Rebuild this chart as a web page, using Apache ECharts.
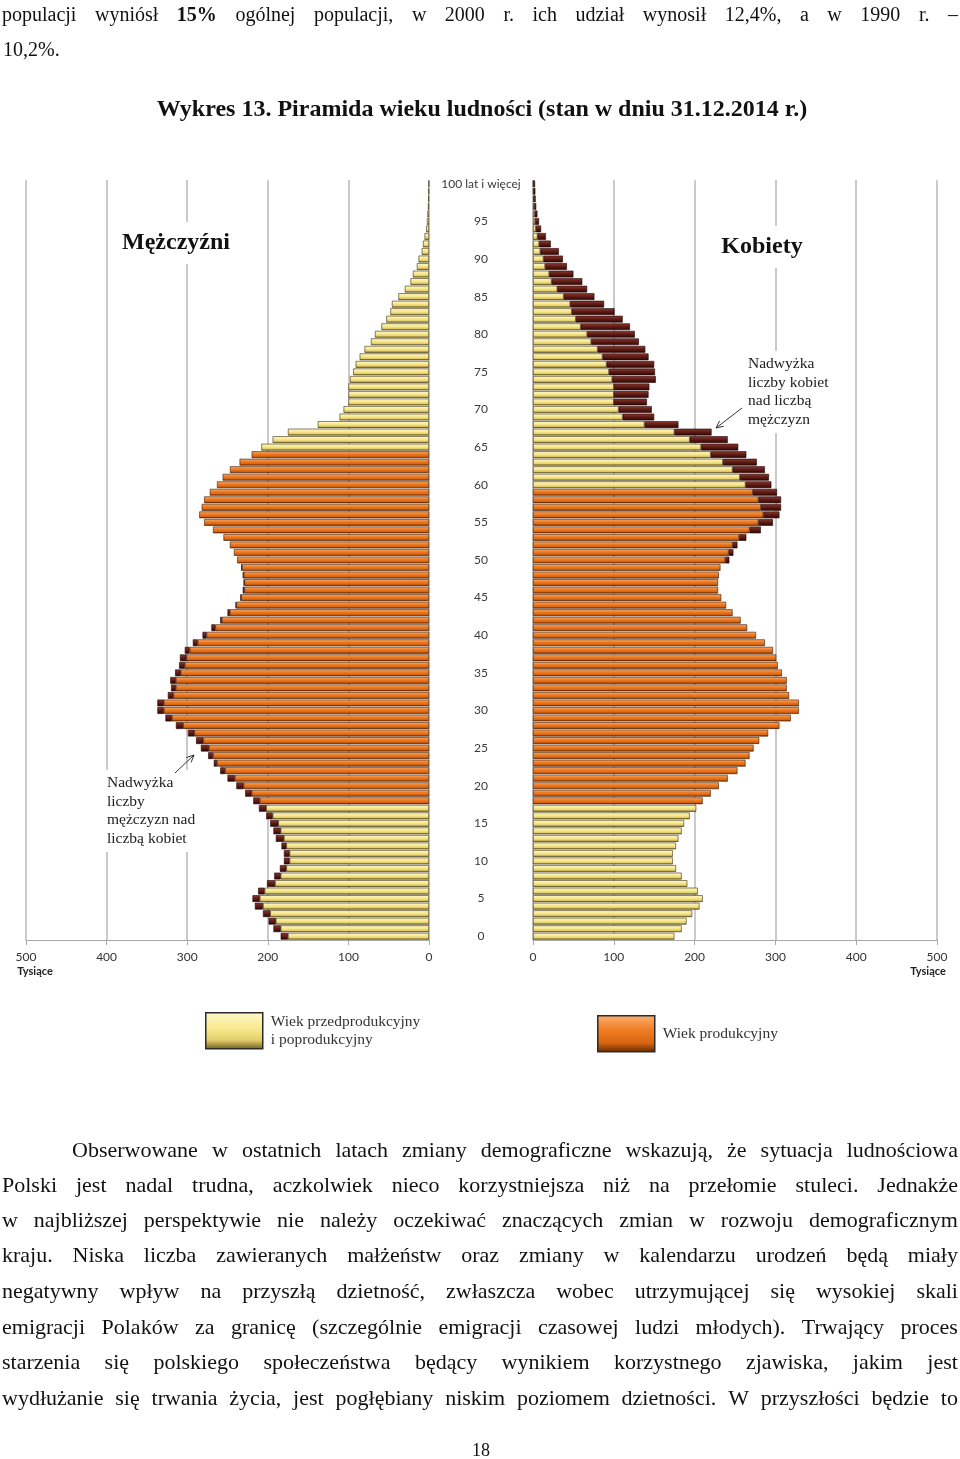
<!DOCTYPE html>
<html>
<head>
<meta charset="utf-8">
<script src="https://cdn.jsdelivr.net/npm/echarts@6/dist/echarts.min.js"></script>
<style>
html,body{margin:0;padding:0;background:#fff;}
#page{position:relative;width:960px;height:1459px;overflow:hidden;background:#fff;}
#chart{position:absolute;left:0;top:0;width:960px;height:1459px;}
.ln{position:absolute;height:26px;line-height:26px;font-family:'Liberation Serif','Times New Roman',serif;font-size:20px;color:#111;white-space:nowrap;z-index:5;}
.jl{display:flex;justify-content:space-between;}
.big{font-size:22px;}
</style>
</head>
<body>
<div id="page">
  <div id="chart"></div>
</div>
<script>
// ---- data (thousands) ----
const ageLabels = Array.from({length: 101}, (_, i) => i === 100 ? '100 lat i więcej' : String(i));

const men = [
  184, 193, 199, 206, 216, 219, 212, 201, 192, 185,
  180, 180, 183, 190, 193, 197, 202, 211, 218, 228,
  239, 250, 259, 267, 274, 283, 289, 299, 314, 327,
  337, 337, 324, 320, 321, 315, 310, 309, 303, 293,
  281, 270, 259, 250, 240, 234, 231, 230, 231, 233,
  238, 242, 247, 255, 268, 279, 285, 282, 279, 272,
  263, 256, 247, 235, 220, 208, 194, 175, 138, 111,
  106, 100, 100, 100, 98, 94, 91, 86, 80, 72,
  67, 59, 53, 48, 46, 38, 30, 23, 20, 15,
  13, 9, 7.5, 5.5, 3.5, 2.5, 2, 1.3, 1, 0.7,
  0.5
];

const women = [
  175, 184, 190, 197, 206, 210, 204, 191, 184, 177,
  173, 173, 177, 180, 184, 187, 194, 202, 210, 220,
  230, 241, 253, 263, 268, 273, 280, 291, 305, 319,
  329, 329, 317, 314, 314, 308, 303, 301, 297, 287,
  276, 265, 257, 247, 239, 233, 229, 229, 230, 232,
  243, 248, 253, 264, 282, 297, 305, 307, 307, 302,
  295, 292, 287, 277, 264, 254, 241, 221, 180, 150,
  147, 141, 143, 144, 152, 151, 150, 143, 139, 131,
  126, 120, 111, 101, 88, 76, 67, 61, 50, 42,
  37, 32, 22, 16, 10, 7.5, 5.5, 4, 3.3, 2.9,
  2.5
];

// working-age ranges (productive age)
const menWorkAge = [18, 64];
const womenWorkAge = [18, 59];

const NAME_Y = 'Wiek przedprodukcyjny i poprodukcyjny';
const NAME_O = 'Wiek produkcyjny';

// ---- page texts ----
const topLines = [
  {t: 'populacji wyniósł <b>15%</b> ogólnej populacji, w 2000 r. ich udział wynosił 12,4%, a w 1990 r. –', x: 2, y: 1, w: 956, j: true},
  {t: '10,2%.', x: 3, y: 36, w: 200, j: false}
];
const titleText = 'Wykres 13. Piramida wieku ludności (stan w dniu 31.12.2014 r.)';
const paraLines = [
  {t: 'Obserwowane w ostatnich latach zmiany demograficzne wskazują, że sytuacja ludnościowa', x: 72, y: 1137, w: 886},
  {t: 'Polski jest nadal trudna, aczkolwiek nieco korzystniejsza niż na przełomie stuleci. Jednakże', x: 2, y: 1172, w: 956},
  {t: 'w najbliższej perspektywie nie należy oczekiwać znaczących zmian w rozwoju demograficznym', x: 2, y: 1207, w: 956},
  {t: 'kraju. Niska liczba zawieranych małżeństw oraz zmiany w kalendarzu urodzeń będą miały', x: 2, y: 1242, w: 956},
  {t: 'negatywny wpływ na przyszłą dzietność, zwłaszcza wobec utrzymującej się wysokiej skali', x: 2, y: 1278, w: 956},
  {t: 'emigracji Polaków za granicę (szczególnie emigracji czasowej ludzi młodych). Trwający proces', x: 2, y: 1314, w: 956},
  {t: 'starzenia się polskiego społeczeństwa będący wynikiem korzystnego zjawiska, jakim jest', x: 2, y: 1349, w: 956},
  {t: 'wydłużanie się trwania życia, jest pogłębiany niskim poziomem dzietności. W przyszłości będzie to', x: 2, y: 1385, w: 956}
];
const pageNumber = '18';

// ---- build html text ----
const page = document.getElementById('page');
function addLine(o, justify, cls) {
  const d = document.createElement('div');
  d.className = 'ln' + (justify ? ' jl' : '') + (cls ? ' ' + cls : '');
  d.style.left = o.x + 'px';
  d.style.top = o.y + 'px';
  d.style.width = o.w + 'px';
  if (justify) {
    o.t.split(' ').forEach(w => { const s = document.createElement('span'); s.innerHTML = w; d.appendChild(s); });
  } else {
    d.innerHTML = o.t;
  }
  page.appendChild(d);
  return d;
}
topLines.forEach(o => addLine(o, o.j));
const tt = addLine({t: titleText, x: 0, y: 95, w: 964}, false);
tt.style.textAlign = 'center'; tt.style.fontWeight = 'bold'; tt.style.fontSize = '24px';
paraLines.forEach(o => addLine(o, true, 'big'));
const pn = addLine({t: pageNumber, x: 0, y: 1437, w: 962}, false);
pn.style.textAlign = 'center'; pn.style.fontSize = '18px';

// ---- derived series ----
const inRange = (i, r) => i >= r[0] && i <= r[1];
const base = men.map((m, i) => Math.min(m, women[i]));
const menExcess = men.map((m, i) => m > women[i] ? +(m - women[i]).toFixed(2) : '-');
const womenExcess = women.map((w, i) => w > men[i] ? +(w - men[i]).toFixed(2) : '-');

function grad(stops) {
  return {type: 'linear', x: 0, y: 0, x2: 0, y2: 1, colorStops: stops.map(s => ({offset: s[0], color: s[1]}))};
}
const yellowStyle = {color: grad([[0, '#fff8cc'], [0.45, '#f8e98e'], [0.75, '#e3cd6a'], [1, '#6b5c1c']]), borderColor: '#3b3010', borderWidth: 0.6};
const orangeStyle = {color: grad([[0, '#fbb070'], [0.4, '#f07c24'], [0.75, '#d7640f'], [1, '#5e2606']]), borderColor: '#3b1a05', borderWidth: 0.6};
const brownStyle = {color: grad([[0, '#8c3b30'], [0.45, '#641d16'], [1, '#2a0705']]), borderColor: '#200404', borderWidth: 0.6};

function sideSeries(idx, stack, range, excess) {
  const common = {type: 'bar', xAxisIndex: idx, yAxisIndex: idx, stack: stack, barCategoryGap: '10%', animation: false, emphasis: {disabled: true}};
  return [
    Object.assign({}, common, {name: NAME_Y, itemStyle: yellowStyle, data: base.map((v, i) => inRange(i, range) ? '-' : v)}),
    Object.assign({}, common, {name: NAME_O, itemStyle: orangeStyle, data: base.map((v, i) => inRange(i, range) ? v : '-')}),
    Object.assign({}, common, {name: 'Nadwyżka', itemStyle: brownStyle, data: excess})
  ];
}

function xAx(idx, inverse) {
  return {
    gridIndex: idx, type: 'value', inverse: inverse, min: 0, max: 500, interval: 100,
    axisLine: {show: true, lineStyle: {color: '#a9a9a9', width: 1}},
    axisTick: {show: true, length: 5, lineStyle: {color: '#a9a9a9'}},
    axisLabel: {margin: 11, color: '#333', fontSize: 12, fontFamily: 'Lato'},
    splitLine: {show: true, lineStyle: {color: '#b8b8b8', width: 1.5}}
  };
}

const annoFont = '15.5px "Liberation Serif"';
const legendText = {fontFamily: 'Liberation Serif', fontSize: 15.5, color: '#333', lineHeight: 18, padding: [0, 0, 0, 3]};
const option = {
  backgroundColor: '#fff',
  animation: false,
  grid: [
    {left: 26, width: 403, top: 180, height: 760},
    {left: 533, width: 404, top: 180, height: 760}
  ],
  xAxis: [xAx(0, true), xAx(1, false)],
  yAxis: [
    {gridIndex: 0, type: 'category', data: ageLabels, axisLine: {show: false}, axisTick: {show: false}, axisLabel: {show: false}},
    {gridIndex: 1, type: 'category', data: ageLabels, axisLine: {show: false}, axisTick: {show: false},
     axisLabel: {show: true, interval: (i) => i % 5 === 0, margin: 52, align: 'center', color: '#3a3a3a', fontSize: 12, fontFamily: 'Lato'}}
  ],
  legend: [
    {data: [NAME_Y], left: 205, top: 1012, padding: 0, itemWidth: 57, itemHeight: 36, itemGap: 0, icon: 'rect', selectedMode: false,
     itemStyle: {borderColor: '#2b2b2b', borderWidth: 1.5},
     formatter: () => 'Wiek przedprodukcyjny\ni poprodukcyjny', textStyle: legendText},
    {data: [NAME_O], left: 597, top: 1015, padding: 0, itemWidth: 57, itemHeight: 36, itemGap: 0, icon: 'rect', selectedMode: false,
     itemStyle: {borderColor: '#2b2b2b', borderWidth: 1.5}, textStyle: legendText}
  ],
  series: [].concat(sideSeries(0, 'men', menWorkAge, menExcess), sideSeries(1, 'women', womenWorkAge, womenExcess)),
  graphic: [
    {type: 'text', z: 100, x: 176, y: 243, style: {text: 'Mężczyźni', font: 'bold 24px "Liberation Serif"', fill: '#111', align: 'center', verticalAlign: 'middle', backgroundColor: '#fff', padding: [9, 4]}},
    {type: 'text', z: 100, x: 762, y: 247, style: {text: 'Kobiety', font: 'bold 24px "Liberation Serif"', fill: '#111', align: 'center', verticalAlign: 'middle', backgroundColor: '#fff', padding: [9, 4]}},
    {type: 'text', z: 100, x: 744, y: 351, style: {text: 'Nadwyżka\nliczby kobiet\nnad liczbą\nmężczyzn', font: annoFont, lineHeight: 18.5, fill: '#222', align: 'left', verticalAlign: 'top', backgroundColor: '#fff', padding: [4, 4]}},
    {type: 'text', z: 100, x: 103, y: 770, style: {text: 'Nadwyżka\nliczby\nmężczyzn nad\nliczbą kobiet', font: annoFont, lineHeight: 18.5, fill: '#222', align: 'left', verticalAlign: 'top', backgroundColor: '#fff', padding: [4, 4]}},
    {type: 'line', z: 100, shape: {x1: 742, y1: 408, x2: 716, y2: 428}, style: {stroke: '#333', lineWidth: 1}},
    {type: 'polyline', z: 100, shape: {points: [[719.6, 420.9], [716, 428], [723.8, 426.2]]}, style: {stroke: '#333', lineWidth: 1, fill: null}},
    {type: 'line', z: 100, shape: {x1: 175, y1: 773, x2: 194, y2: 755}, style: {stroke: '#333', lineWidth: 1}},
    {type: 'polyline', z: 100, shape: {points: [[186.4, 757.5], [194, 755], [191.1, 762.4]]}, style: {stroke: '#333', lineWidth: 1, fill: null}},
    {type: 'text', z: 100, x: 35, y: 971, style: {text: 'Tysiące', font: 'bold 11px Lato', fill: '#222', align: 'center', verticalAlign: 'middle'}},
    {type: 'text', z: 100, x: 928, y: 971, style: {text: 'Tysiące', font: 'bold 11px Lato', fill: '#222', align: 'center', verticalAlign: 'middle'}}
  ]
};

const chart = echarts.init(document.getElementById('chart'), null, {renderer: 'canvas'});
chart.setOption(option);
</script>
</body>
</html>
